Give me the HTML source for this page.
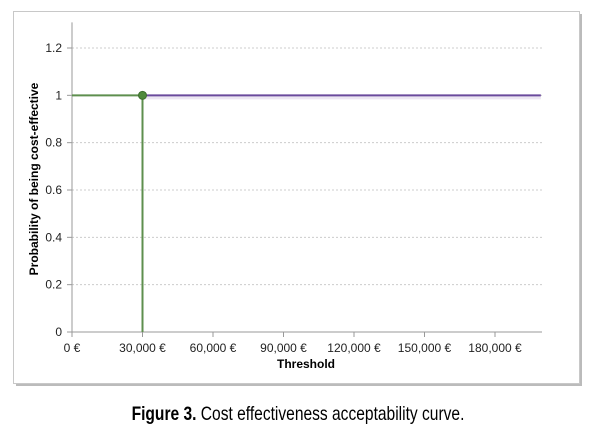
<!DOCTYPE html>
<html><head><meta charset="utf-8"><style>
body{margin:0;width:603px;height:436px;background:#fff;overflow:hidden;font-family:"Liberation Sans",sans-serif}
</style></head><body>
<svg width="603" height="436">
<rect x="16" y="14" width="566" height="372" fill="#bbb"/>
<rect x="13.5" y="11.5" width="566" height="372" fill="#fff" stroke="#c8c8c8"/>
<g id="grid"></g><g id="axes"></g><g id="series"></g>
<text x="11" y="0" transform="translate(38,190) rotate(-90)" text-anchor="middle" font-size="12" font-weight="bold">Probability of being cost-effective</text>
<text x="306" y="368" text-anchor="middle" font-size="12" font-weight="bold">Threshold</text>
<text x="0" y="0" transform="translate(298,420) scale(0.82,1)" text-anchor="middle" font-size="19"><tspan font-weight="bold">Figure 3.</tspan> Cost effectiveness acceptability curve.</text>
</svg>
<script>
const yTicks=[0,0.2,0.4,0.6,0.8,1,1.2];
const xTicks=[0,30000,60000,90000,120000,150000,180000];
const xTickLabels=["0 €","30,000 €","60,000 €","90,000 €","120,000 €","150,000 €","180,000 €"];
const greenX=[0,30000,30000];
const greenY=[1,1,0];
const purpleX=[30000,199500];
const purpleY=[1,1];
const markerX=[30000];
const markerY=[1];
const NS="http://www.w3.org/2000/svg";
const x=v=>72+v*(70.5/30000);
const y=v=>332-v*(284/1.2);
function mk(t,a,p){const e=document.createElementNS(NS,t);for(const k in a)e.setAttribute(k,a[k]);p.appendChild(e);return e;}
const G=document.getElementById('grid'),A=document.getElementById('axes'),S=document.getElementById('series');
yTicks.forEach(v=>{
 if(v>0){const l=mk('line',{x1:72,x2:542,y1:y(v),y2:y(v),stroke:'#ccc','stroke-dasharray':'2,2'},G);
 
 }
 const tk=mk('line',{x1:67,x2:72,y1:y(v),y2:y(v),stroke:'#999'},A);
 
 
 const t=mk('text',{x:62,y:y(v)+4,'text-anchor':'end','font-size':12,fill:'#222'},A);t.textContent=String(v);
 
 
});
const ya=mk('line',{x1:72,x2:72,y1:y(1.3)-2,y2:y(0),stroke:'#999'},A);


const xa=mk('line',{x1:72,x2:542,y1:y(0),y2:y(0),stroke:'#999'},A);


xTicks.forEach((v,i)=>{
 const tk=mk('line',{x1:x(v),x2:x(v),y1:y(0),y2:y(0)+5,stroke:'#999'},A);
 
 
 const t=mk('text',{x:x(v),y:352,'text-anchor':'middle','font-size':12,fill:'#222'},A);t.textContent=xTickLabels[i];
 
 
});
const sh=mk('rect',{x:x(purpleX[0]),y:y(purpleY[0])+1,width:x(purpleX[1])-x(purpleX[0]),height:3,fill:'#ece6f2'},S);


const pp=mk('polyline',{points:purpleX.map((v,i)=>x(v)+','+y(purpleY[i])).join(' '),fill:'none',stroke:'#6a4a9c','stroke-width':2},S);


const gp=mk('polyline',{points:greenX.map((v,i)=>x(v)+','+y(greenY[i])).join(' '),fill:'none',stroke:'#5e8f4e','stroke-width':2},S);


markerX.forEach((v,i)=>{const c=mk('circle',{cx:x(v),cy:y(markerY[i]),r:4,fill:'#4f8a3c',stroke:'#3d6e2e'},S);
 
 });
</script>
</body></html>
